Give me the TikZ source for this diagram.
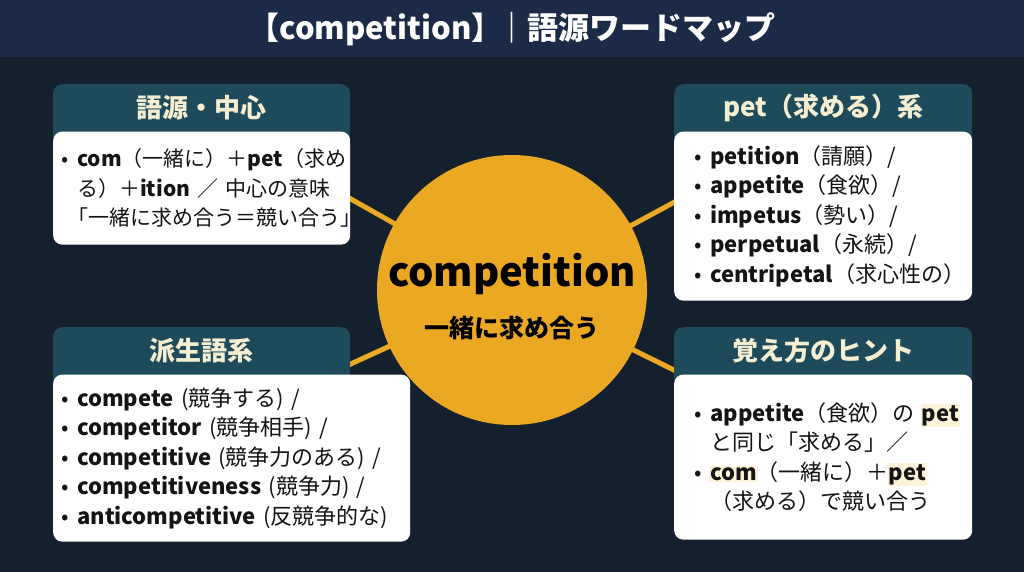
\documentclass[tikz,border=0pt]{standalone}
\usepackage{fontspec}
\setmainfont{Noto Sans CJK JP}
\definecolor{pagebg}{HTML}{15202E}
\definecolor{titlebg}{HTML}{1B2A47}
\definecolor{hdrteal}{HTML}{1E4B5B}
\definecolor{sunorange}{HTML}{EBA823}
\definecolor{hdrtext}{HTML}{F4EFD2}
\definecolor{hilite}{HTML}{FCF3D9}
\pgfdeclarelayer{back}
\pgfsetlayers{back,main}
\newcommand{\hlword}[1]{\kern-1pt{\setlength{\fboxsep}{1pt}\colorbox{hilite}{\textbf{#1}}}\kern-1pt}
\newcommand{\bul}{\makebox[24pt]{•}}
\newcommand{\nobul}{\hspace*{24pt}}

\begin{document}
\begin{tikzpicture}[x=1pt,y=-1pt,
                every node/.style={inner sep=0pt},
                hdr/.style={fill=hdrteal,rounded corners=9pt,anchor=north west,
                  minimum width=297pt,minimum height=47pt,text=hdrtext,
                  font=\fontsize{26}{30}\selectfont\bfseries},
                card/.style={fill=white,rounded corners=9pt,anchor=north west,
                  align=left,inner xsep=12pt,text width=274pt,text=black!92,
                  font=\fontsize{22}{29.5}\selectfont},
                link/.style={draw=sunorange,line width=5pt}]
  \begin{pgfonlayer}{back}
    \fill[pagebg] (0,0) rectangle (1024,572);
    \fill[titlebg] (0,0) rectangle (1024,57);
  \end{pgfonlayer}
  \node[text=white,font=\fontsize{31}{36}\selectfont\bfseries] (title) at (512,29)
    {【competition】\kern-6pt｜語源ワードマップ};

  \node[circle,fill=sunorange,minimum size=270pt] (core) at (512,290) {};
  \node[font=\fontsize{40}{46}\selectfont\bfseries] (coreword) at (512,274) {competition};
  \node[font=\fontsize{25}{30}\selectfont\bfseries] (coremean) at (512,328) {一緒に求め合う};

  \coordinate (rootend) at (342,194);
  \coordinate (petend) at (682,198);
  \coordinate (deriveend) at (342,368);
  \coordinate (hintend) at (682,374);
  \begin{pgfonlayer}{back}
    \foreach \e in {rootend,petend,deriveend,hintend}
      \draw[link] (core.center) -- (\e);
  \end{pgfonlayer}

  \node[hdr] (rootH) at (53,84) {語源・中心};
  \node[card,inner xsep=0pt,text width=297pt,minimum height=113pt,
        font=\fontsize{21}{29.5}\selectfont] (rootB) at (rootH.south west)
    {\bul\textbf{com}（一緒に）＋\textbf{pet}（求め\\
     \nobul る）＋\textbf{ition} ／ 中心の意味\\
     \hspace*{14pt}「一緒に求め合う＝競い合う」};

  \node[hdr,minimum width=298pt] (petH) at (674,84) {pet（求める）系};
  \node[card,minimum height=169pt] (petB) at (petH.south west)
    {\bul\textbf{petition}（請願）/\\
     \bul\textbf{appetite}（食欲）/\\
     \bul\textbf{impetus}（勢い）/\\
     \bul\textbf{perpetual}（永続）/\\
     \bul\textbf{centripetal}（求心性の）};

  \node[hdr] (deriveH) at (53,327) {派生語系};
  \node[card,inner xsep=0pt,text width=357pt,minimum height=167pt] (deriveB) at (deriveH.south west)
    {\bul\textbf{compete} (競争する) /\\
     \bul\textbf{competitor} (競争相手) /\\
     \bul\textbf{competitive} (競争力のある) /\\
     \bul\textbf{competitiveness} (競争力) /\\
     \bul\textbf{anticompetitive} (反競争的な)};

  \node[hdr,minimum width=298pt] (hintH) at (674,327) {覚え方のヒント};
  \node[card,minimum height=165pt] (hintB) at (hintH.south west)
    {\bul\textbf{appetite}（食欲）の \hlword{pet}\\
     \nobul と同じ「求める」／\\
     \bul\hlword{com}（一緒に）＋\hlword{pet}\\
     \nobul（求める）で競い合う};

  \begin{pgfonlayer}{back}
    \foreach \h in {rootH,petH,deriveH,hintH}
      \fill[hdrteal] (\h.west) rectangle ([yshift=-10pt]\h.south east);
  \end{pgfonlayer}
\end{tikzpicture}
\end{document}
